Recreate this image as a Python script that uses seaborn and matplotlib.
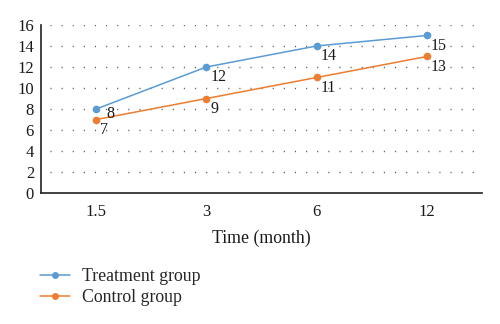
import matplotlib
matplotlib.use("Agg")
import matplotlib.pyplot as plt
import seaborn as sns
import pandas as pd

# Values per follow-up time point
times = ["1.5", "3", "6", "12"]
treatment = [8, 12, 14, 15]
control = [7, 9, 11, 13]
groups = ["Treatment group", "Control group"]
colors = ["#5B9BD5", "#ED7D31"]

sns.set_style("white")
plt.rcParams["font.family"] = ["Liberation Serif", "DejaVu Serif"]

df = pd.DataFrame({
    "pos": list(range(len(times))) * 2,
    "value": treatment + control,
    "group": [groups[0]] * len(times) + [groups[1]] * len(times),
})

fig = plt.figure(figsize=(5.0, 3.24), dpi=100)
ax = fig.add_axes([0.082, 0.404, 0.882, 0.519])

sns.lineplot(data=df, x="pos", y="value", hue="group", palette=colors,
             marker="o", markersize=5.5, markeredgewidth=0, linewidth=1.1,
             ax=ax, legend=False)

# data labels sit just below and to the right of each point;
# the first treatment label is nudged up so it clears the control label
for s, vals in enumerate((treatment, control)):
    for i, v in enumerate(vals):
        dx, dy = (7.5, 2.5) if (s == 0 and i == 0) else (3.0, -1.5)
        ax.annotate(str(v), (i, v), xytext=(dx, dy), textcoords="offset points",
                    ha="left", va="top", fontsize=11.5, color="#1a1a1a")

ax.set_xlim(-0.5, 3.5)
ax.set_ylim(0, 16)
ax.set_yticks(range(0, 17, 2))
ax.set_xticks(range(len(times)))
ax.set_xticklabels(times)
ax.tick_params(axis="both", labelsize=12, length=0, colors="#1a1a1a")
ax.tick_params(axis="y", pad=5)
ax.tick_params(axis="x", pad=7.5)
ax.set_xlabel("Time (month)", fontsize=12.8, color="#1a1a1a", labelpad=7.5)
ax.set_ylabel("")

for y in range(2, 17, 2):
    ax.axhline(y, xmin=0.02, xmax=1.0, color="#5a5a5a", lw=1.0,
               linestyle=(0, (0.8, 7.2)), zorder=0)

for s in ["top", "right"]:
    ax.spines[s].set_visible(False)
for s in ["left", "bottom"]:
    ax.spines[s].set_color("#222222")
    ax.spines[s].set_linewidth(1.2)

handles = [plt.Line2D([], [], color=c, marker="o", markersize=5,
                      markeredgewidth=0, lw=1.1) for c in colors]
fig.legend(handles, groups, loc="upper left", bbox_to_anchor=(0.065, 0.195),
           frameon=False, fontsize=12.8, handlelength=1.7, handletextpad=0.7,
           labelspacing=0.25, borderaxespad=0)

fig.savefig("out.png", dpi=100)
